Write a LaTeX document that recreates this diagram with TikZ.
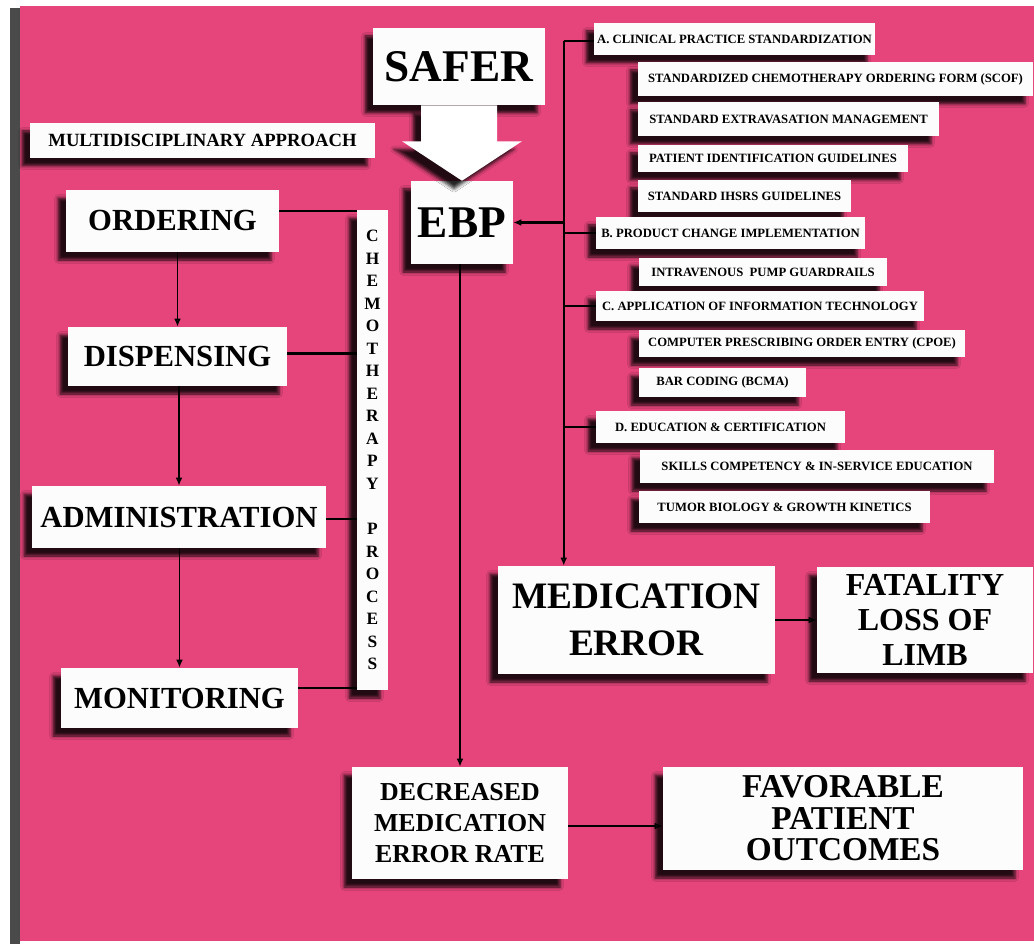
\documentclass[tikz,border=0pt]{standalone}
\usepackage{fontspec}
\setmainfont{Liberation Serif}
\usepackage{tikz}
\usetikzlibrary{arrows.meta, positioning, calc, shadows.blur}
\definecolor{saferPink} {HTML}{E6457B}
\definecolor{saferEdge} {HTML}{4A4A4A}
\definecolor{saferPaper}{HTML}{FCFCFC}
\tikzset{
  card/.style  = {rectangle, fill=saferPaper, inner sep=2pt, align=center,
                  blur shadow={shadow xshift=-6pt, shadow yshift=-6pt,
                               shadow blur radius=2.5pt, shadow opacity=85}},
  stage/.style = {card, font=\fontsize{23}{28}\selectfont\bfseries},
  item/.style  = {card, font=\fontsize{9.5}{11}\selectfont\bfseries},
  arrow/.style = {-{Latex[length=6pt, width=5pt]}, line width=1.7pt},
  thinarrow/.style = {-{Latex[length=6pt, width=5pt]}, line width=1.3pt},
  link/.style  = {line width=1.7pt},
}

\begin{document}
\begin{tikzpicture}[x=0.75pt, y=-0.75pt,
  title/.style={card, font=\fontsize{34}{40}\selectfont\bfseries},
  result/.style={card, font=\bfseries},
]

\useasboundingbox (0,0) rectangle (1034,944);
\fill[white] (0,0) rectangle (1034,944);
\fill[saferEdge] (10,8) rectangle (20,944);
\fill[saferPink] (20,6) rectangle (1034,941);

\node[title, minimum width=129pt, minimum height=57.75pt] (safer) at (459,66.5) {SAFER};
\node[title, minimum width=76.5pt, minimum height=62.25pt] (ebp) at (462,222.5) {EBP};
\node[card, font=\fontsize{14}{16}\selectfont\bfseries, minimum width=258.75pt, minimum height=26.25pt] (multi) at (202.5,140.5) {MULTIDISCIPLINARY APPROACH};

\node[stage, minimum width=159.75pt, minimum height=46.5pt] (ordering) at (172.5,221) {ORDERING};
\node[stage, minimum width=164.25pt, minimum height=44.25pt] (dispensing) at (177.5,356.5) {DISPENSING};
\node[stage, minimum width=220.5pt, minimum height=46.5pt] (admin) at (179,517) {ADMINISTRATION};
\node[stage, minimum width=177.75pt, minimum height=45pt] (monitoring) at (179.5,698) {MONITORING};
\node[card, font=\fontsize{13}{16.9}\selectfont\bfseries, minimum width=23.25pt, minimum height=360pt] (chemo) at (372.5,450)
  {C\\H\\E\\M\\O\\T\\H\\E\\R\\A\\P\\Y\\[16.9pt]P\\R\\O\\C\\E\\S\\S};

\node[item, minimum width=210.75pt, minimum height=24pt] (secA) at (734.5,39) {A. CLINICAL PRACTICE STANDARDIZATION};
\node[item, minimum width=296.25pt, minimum height=25.5pt] (scof) at (835.5,79) {STANDARDIZED CHEMOTHERAPY ORDERING FORM (SCOF)};
\node[item, minimum width=225.75pt, minimum height=25.5pt] (extrav) at (788.5,119) {STANDARD EXTRAVASATION MANAGEMENT};
\node[item, minimum width=202.5pt, minimum height=20.25pt] (patid) at (773,158.5) {PATIENT IDENTIFICATION GUIDELINES};
\node[item, minimum width=159.75pt, minimum height=24pt] (ihsrs) at (744.5,196) {STANDARD IHSRS GUIDELINES};
\node[item, minimum width=201.75pt, minimum height=24pt] (secB) at (730.5,233) {B. PRODUCT CHANGE IMPLEMENTATION};
\node[item, minimum width=186pt, minimum height=21pt] (ivpump) at (763,272) {INTRAVENOUS \ PUMP GUARDRAILS};
\node[item, minimum width=246pt, minimum height=22.5pt] (secC) at (760,306) {C. APPLICATION OF INFORMATION TECHNOLOGY};
\node[item, minimum width=244.5pt, minimum height=20.25pt] (cpoe) at (802,343.5) {COMPUTER PRESCRIBING ORDER ENTRY (CPOE)};
\node[item, minimum width=125.25pt, minimum height=21.75pt] (barcode) at (722.5,382.5) {BAR CODING (BCMA)};
\node[item, minimum width=186.75pt, minimum height=24pt] (secD) at (720.5,427) {D. EDUCATION \& CERTIFICATION};
\node[item, minimum width=265.5pt, minimum height=24.75pt] (skills) at (817,466.5) {SKILLS COMPETENCY \& IN-SERVICE EDUCATION};
\node[item, minimum width=218.25pt, minimum height=24pt] (tumor) at (784.5,507) {TUMOR BIOLOGY \& GROWTH KINETICS};

\node[result, font=\fontsize{28}{35}\selectfont\bfseries, minimum width=207.75pt, minimum height=81pt] (medication) at (636.5,620) {MEDICATION\\ERROR};
\node[result, font=\fontsize{24}{26.6}\selectfont\bfseries, minimum width=162pt, minimum height=79.5pt] (fatality) at (925,620) {FATALITY\\LOSS OF\\LIMB};
\node[result, font=\fontsize{19.4}{23}\selectfont\bfseries, minimum width=162pt, minimum height=84pt] (decreased) at (460,823) {DECREASED\\MEDICATION\\ERROR RATE};
\node[result, font=\fontsize{25}{23.6}\selectfont\bfseries, minimum width=270pt, minimum height=77.25pt] (favorable) at (843,818.5) {FAVORABLE\\PATIENT\\OUTCOMES};

\fill[white, blur shadow={shadow xshift=-6pt, shadow yshift=-6pt, shadow blur radius=2.5pt, shadow opacity=85}]
  ($(safer.south)+(-38,0)$) -- ($(safer.south)+(38,0)$) -- ($(safer.south)+(38,36)$)
  -- ($(safer.south)+(63,36)$) -- (ebp.north) -- ($(safer.south)+(-57,36)$)
  -- ($(safer.south)+(-38,36)$) -- cycle;

\coordinate (ordR) at ($(ordering.east)+(0,-10)$);
\coordinate (disR) at ($(dispensing.east)+(0,-3)$);
\coordinate (admR) at ($(admin.east)+(0,2)$);
\coordinate (monR) at ($(monitoring.east)+(0,-10)$);
\coordinate (decR) at ($(decreased.east)+(0,3)$);
\coordinate (bus)  at ($(secA.west)+(-30,2)$);

\draw[thinarrow] (dispensing.north |- ordering.south) -- (dispensing.north);
\draw[thinarrow] (admin.north |- dispensing.south) -- (admin.north);
\draw[thinarrow] (monitoring.north |- admin.south) -- (monitoring.north);
\draw[link] (ordR) -- (ordR -| chemo.west);
\draw[link] (disR) -- (disR -| chemo.west);
\draw[link] (admR) -- (admR -| chemo.west);
\draw[link] (monR) -- (monR -| chemo.west);

\draw[arrow] (bus) -- (bus |- medication.north);
\draw[arrow] (bus |- ebp.east) -- (ebp.east);
\draw[link] (bus) -- (bus -| secA.west);
\draw[link] (bus |- secB.west) -- (secB.west);
\draw[link] (bus |- secC.west) -- (secC.west);
\draw[link] (bus |- secD.west) -- (secD.west);

\draw[thinarrow] (decreased.north |- ebp.south) -- (decreased.north);
\draw[arrow] (medication.east) -- (fatality.west);
\draw[arrow] (decR) -- (decR -| favorable.west);

\end{tikzpicture}
\end{document}
